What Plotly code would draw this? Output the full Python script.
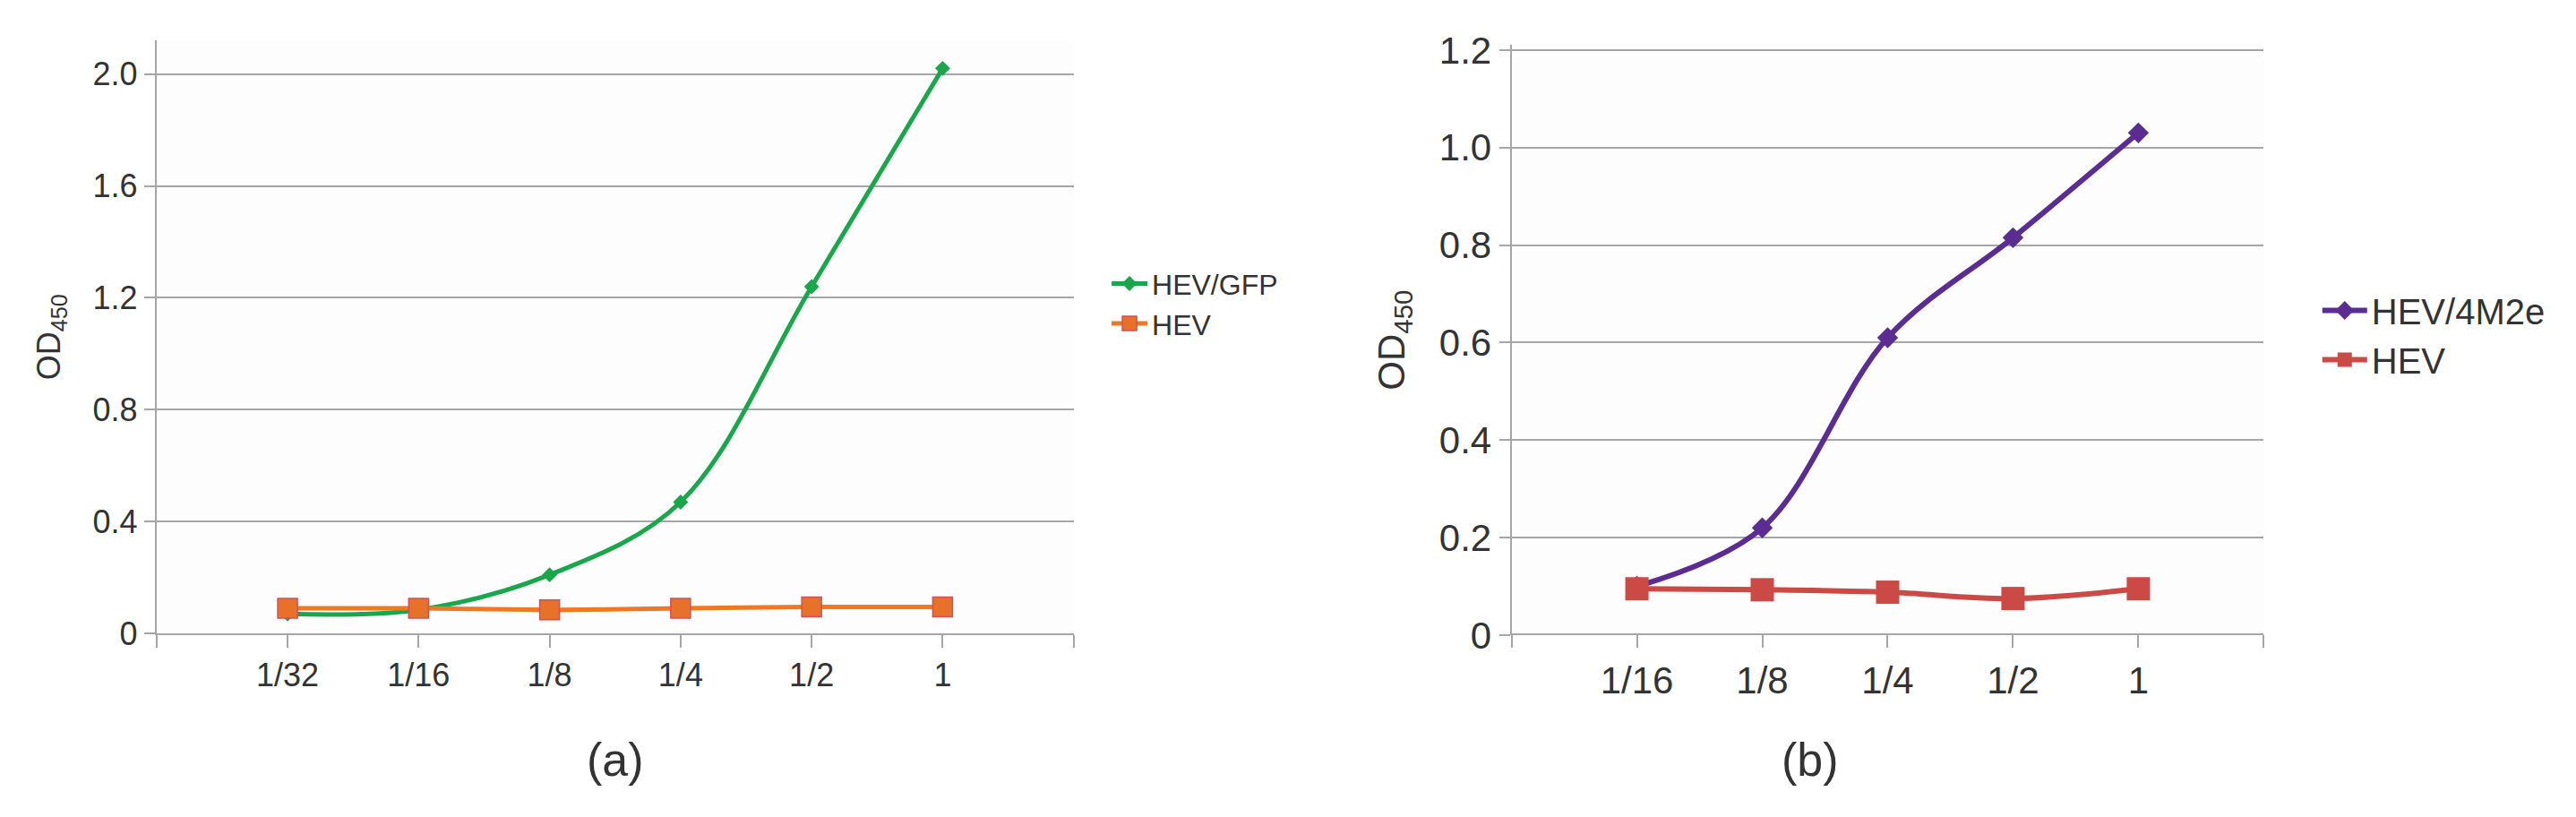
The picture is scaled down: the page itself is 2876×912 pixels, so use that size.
import plotly.graph_objects as go

# panel (a)
dil_a = ["1/32", "1/16", "1/8", "1/4", "1/2", "1"]
gfp = [0.07, 0.085, 0.21, 0.47, 1.24, 2.02]
hev_a = [0.09, 0.09, 0.085, 0.09, 0.095, 0.095]

# panel (b)
dil_b = ["1/16", "1/8", "1/4", "1/2", "1"]
m2e = [0.10, 0.22, 0.61, 0.815, 1.03]
hev_b = [0.095, 0.093, 0.088, 0.075, 0.095]

FONT = "Liberation Sans, Arial, sans-serif"
NARROW = "Liberation Sans Narrow, Liberation Sans, Arial, sans-serif"
GRID = "#a6a6a6"

fig = go.Figure()

xa = list(range(len(dil_a)))
xb = list(range(len(dil_b)))

fig.add_trace(go.Scatter(x=xa, y=gfp, name="HEV/GFP", mode="lines+markers",
                         line=dict(color="#1aa64a", width=5, shape="spline"),
                         marker=dict(symbol="diamond", size=13, color="#1aa64a"),
                         xaxis="x", yaxis="y", legend="legend"))
fig.add_trace(go.Scatter(x=xa, y=hev_a, name="HEV", mode="lines+markers",
                         line=dict(color="#f07822", width=5, shape="spline"),
                         marker=dict(symbol="square", size=22, color="#e8712a",
                                     line=dict(color="#d0505a", width=1.5)),
                         xaxis="x", yaxis="y", legend="legend"))

fig.add_trace(go.Scatter(x=xb, y=m2e, name="HEV/4M2e", mode="lines+markers",
                         line=dict(color="#5b2c91", width=6, shape="spline"),
                         marker=dict(symbol="diamond", size=18, color="#5b2c91"),
                         xaxis="x2", yaxis="y2", legend="legend2"))
fig.add_trace(go.Scatter(x=xb, y=hev_b, name="HEV", mode="lines+markers",
                         line=dict(color="#cc4a45", width=6, shape="spline"),
                         marker=dict(symbol="square", size=26, color="#cc4a45"),
                         xaxis="x2", yaxis="y2", legend="legend2"))

def xaxis(dom, labels, size, family):
    n = len(labels)
    return dict(domain=dom, range=[-1, n], tickmode="array",
                tickvals=list(range(-1, n + 1)), ticktext=[""] + labels + [""],
                ticks="outside", ticklen=14, tickwidth=2, tickcolor=GRID,
                showline=True, linecolor=GRID, linewidth=2, showgrid=False,
                zeroline=False, tickfont=dict(size=size, family=family, color="#333"))

def yaxis(dom, rng, vals, text, size, family, xanchor):
    return dict(domain=dom, range=rng, anchor=xanchor, tickmode="array",
                tickvals=vals, ticktext=text, ticks="outside", ticklen=12,
                tickwidth=2, tickcolor=GRID, showline=True, linecolor=GRID,
                linewidth=2, showgrid=True, gridcolor=GRID, gridwidth=2,
                zeroline=False, tickfont=dict(size=size, family=family, color="#333"),
                title=dict(text="OD<sub>450</sub>", standoff=25,
                           font=dict(size=size, family=FONT, color="#333")))

fig.update_layout(
    width=2876, height=912,
    paper_bgcolor="white", plot_bgcolor="#fdfdfd",
    margin=dict(l=0, r=0, t=0, b=0),
    xaxis=xaxis([0.058, 0.414], dil_a, 36, FONT),
    yaxis=yaxis([0.217, 0.978], [0, 2.12], [0, 0.4, 0.8, 1.2, 1.6, 2.0],
                ["0", "0.4", "0.8", "1.2", "1.6", "2.0"], 36, FONT, "x"),
    xaxis2=xaxis([0.584, 0.876], dil_b, 42, NARROW),
    yaxis2=yaxis([0.215, 0.972], [0, 1.21], [0, 0.2, 0.4, 0.6, 0.8, 1.0, 1.2],
                 ["0", "0.2", "0.4", "0.6", "0.8", "1.0", "1.2"], 42, NARROW, "x2"),
    legend=dict(x=0.427, y=0.64, xanchor="left", yanchor="middle", itemwidth=40,
                font=dict(size=32, family=FONT, color="#333"), bgcolor="rgba(0,0,0,0)"),
    legend2=dict(x=0.897, y=0.6, xanchor="left", yanchor="middle", itemwidth=50,
                 font=dict(size=40, family=NARROW, color="#333"), bgcolor="rgba(0,0,0,0)"),
    annotations=[
        dict(text="(a)", x=0.236, y=0.02, xref="paper", yref="paper", showarrow=False,
             xanchor="center", yanchor="bottom", font=dict(size=52, family=FONT, color="#333")),
        dict(text="(b)", x=0.70, y=0.02, xref="paper", yref="paper", showarrow=False,
             xanchor="center", yanchor="bottom", font=dict(size=52, family=FONT, color="#333")),
    ],
)

fig.write_html("out.html")
